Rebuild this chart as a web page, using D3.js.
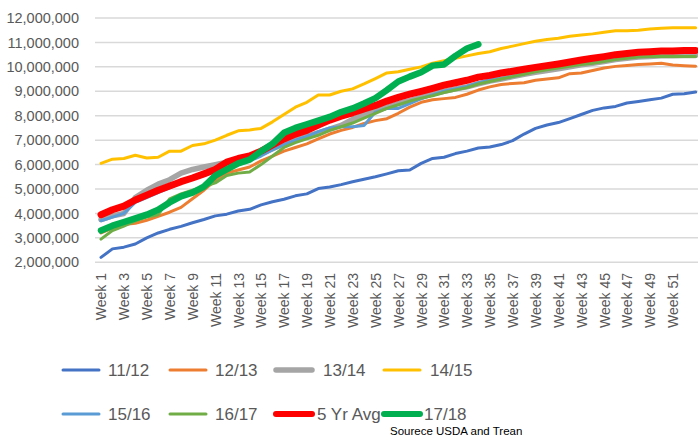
<!DOCTYPE html>
<html>
<head>
<meta charset="utf-8">
<script src="https://cdn.jsdelivr.net/npm/d3@7"></script>
<style>
  body { margin: 0; background: #fff; }
  text { font-family: "Liberation Sans", Arial, sans-serif; fill: #595959; }
</style>
</head>
<body>
<div id="chart"></div>
<script>
// weeks 1..53
var weeks = d3.range(1, 54).map(function(d) { return "Week " + d; });
var yTicks = [2000000, 3000000, 4000000, 5000000, 6000000, 7000000, 8000000, 9000000, 10000000, 11000000, 12000000];

// values in millions
var s1112 = [2.2, 2.55, 2.62, 2.75, 3.0, 3.2, 3.35, 3.47, 3.62, 3.75, 3.9, 3.97, 4.1, 4.17, 4.35, 4.48, 4.58, 4.72, 4.8, 5.02,
  5.08, 5.18, 5.3, 5.4, 5.5, 5.62, 5.75, 5.78, 6.05, 6.25, 6.3, 6.45, 6.55, 6.68, 6.72, 6.82, 6.98, 7.25, 7.48, 7.62,
  7.72, 7.88, 8.05, 8.22, 8.32, 8.38, 8.52, 8.58, 8.65, 8.72, 8.88, 8.9, 8.97];
var s1213 = [3.2, 3.4, 3.55, 3.6, 3.72, 3.88, 4.05, 4.25, 4.6, 4.95, 5.35, 5.65, 5.78, 5.9, 6.15, 6.35, 6.55, 6.7, 6.85, 7.05,
  7.25, 7.4, 7.52, 7.68, 7.8, 7.88, 8.1, 8.35, 8.55, 8.65, 8.7, 8.75, 8.88, 9.05, 9.18, 9.28, 9.32, 9.35, 9.45, 9.5,
  9.55, 9.72, 9.75, 9.85, 9.95, 10.02, 10.06, 10.1, 10.12, 10.15, 10.08, 10.05, 10.03];
var s1314 = [3.75, 3.9, 4.0, 4.65, 4.95, 5.2, 5.38, 5.65, 5.8, 5.9, 6.0, 6.1, 6.2, 6.3, 6.45, 6.65, 6.85, 7.0, 7.15, 7.3,
  7.45, 7.6, 7.85, 8.05, 8.2, 8.35, 8.5, 8.62, 8.75, 8.9, 9.0, 9.1, 9.18, 9.3, 9.42, 9.5, 9.6, 9.7, 9.78, 9.85,
  9.92, 10.0, 10.08, 10.15, 10.22, 10.3, 10.35, 10.4, 10.42, 10.45, 10.45, 10.47, 10.47];
var s1415 = [6.05, 6.22, 6.25, 6.38, 6.27, 6.3, 6.55, 6.55, 6.78, 6.85, 7.0, 7.2, 7.38, 7.42, 7.48, 7.75, 8.05, 8.35, 8.55, 8.85,
  8.85, 9.0, 9.1, 9.3, 9.52, 9.75, 9.8, 9.9, 10.0, 10.15, 10.25, 10.35, 10.45, 10.55, 10.62, 10.75, 10.85, 10.95, 11.05, 11.12,
  11.17, 11.25, 11.3, 11.35, 11.42, 11.48, 11.48, 11.5, 11.55, 11.58, 11.6, 11.6, 11.6];
var s1516 = [3.7, 3.85, 4.0, 4.45, 4.65, 4.85, 5.05, 5.25, 5.42, 5.55, 5.72, 5.88, 6.0, 6.15, 6.35, 6.6, 6.82, 7.0, 7.15, 7.35,
  7.5, 7.55, 7.55, 7.6, 8.15, 8.3, 8.3, 8.5, 8.7, 8.85, 9.0, 9.1, 9.2, 9.35, 9.45, 9.52, 9.6, 9.72, 9.82, 9.92,
  10.0, 10.08, 10.15, 10.22, 10.3, 10.38, 10.45, 10.52, 10.58, 10.62, 10.65, 10.7, 10.72];
var s1617 = [2.95, 3.3, 3.48, 3.7, 3.85, 3.95, 4.6, 4.8, 4.95, 5.1, 5.25, 5.55, 5.65, 5.7, 6.0, 6.35, 6.7, 6.9, 7.05, 7.2,
  7.4, 7.55, 7.7, 7.9, 8.1, 8.3, 8.45, 8.6, 8.72, 8.82, 8.95, 9.05, 9.15, 9.3, 9.4, 9.5, 9.6, 9.7, 9.8, 9.88,
  9.95, 10.02, 10.1, 10.15, 10.22, 10.3, 10.35, 10.4, 10.42, 10.43, 10.42, 10.42, 10.42];
var sAvg = [3.95, 4.15, 4.3, 4.55, 4.75, 4.95, 5.12, 5.3, 5.45, 5.62, 5.8, 6.1, 6.25, 6.35, 6.55, 6.8, 7.05, 7.25, 7.4, 7.62,
  7.82, 7.98, 8.12, 8.28, 8.42, 8.6, 8.75, 8.88, 9.0, 9.12, 9.25, 9.35, 9.45, 9.58, 9.65, 9.75, 9.82, 9.9, 9.98, 10.05,
  10.12, 10.2, 10.28, 10.35, 10.42, 10.5, 10.55, 10.6, 10.62, 10.65, 10.65, 10.67, 10.67];
var s1718 = [3.3, 3.5, 3.65, 3.8, 3.95, 4.15, 4.45, 4.7, 4.85, 5.1, 5.55, 5.8, 6.05, 6.2, 6.55, 6.85, 7.3, 7.5, 7.65, 7.8,
  7.95, 8.15, 8.3, 8.5, 8.72, 9.05, 9.4, 9.6, 9.78, 10.05, 10.1, 10.45, 10.75, 10.92];

var seriesNames = ["11/12", "12/13", "13/14", "14/15", "15/16", "16/17", "5 Yr Avg", "17/18"];
var seriesValues = [s1112, s1213, s1314, s1415, s1516, s1617, sAvg, s1718];
var seriesColors = ["#4472C4", "#ED7D31", "#A5A5A5", "#FFC000", "#5B9BD5", "#70AD47", "#FF0000", "#00B050"];
var seriesWidths = [3, 3, 5.5, 3, 3, 3, 7, 6.5];

var width = 698, height = 439;

var svg = d3.select("#chart").append("svg")
  .attr("width", width)
  .attr("height", height);

var x = d3.scalePoint()
  .domain(weeks)
  .range([101, 695.6]);

var y = d3.scaleLinear()
  .domain([2000000, 12000000])
  .range([262.3, 18]);

// gridlines
svg.append("g")
  .selectAll("line")
  .data(yTicks)
  .enter().append("line")
  .attr("x1", 95)
  .attr("x2", 698)
  .attr("y1", d => y(d))
  .attr("y2", d => y(d))
  .attr("stroke", "#D9D9D9")
  .attr("stroke-width", 1.5);

// y axis labels
var yAxis = svg.append("g")
  .attr("transform", "translate(86,0)")
  .call(d3.axisLeft(y).tickValues(yTicks).tickFormat(d3.format(",")).tickSize(0).tickPadding(7));
yAxis.select(".domain").remove();
yAxis.selectAll("text")
  .style("font-family", "Liberation Sans, Arial, sans-serif")
  .style("font-size", "14.5px")
  .attr("fill", "#595959");

// x axis labels, every other week
var xAxis = svg.append("g")
  .attr("transform", "translate(0,268)")
  .call(d3.axisBottom(x).tickValues(weeks.filter((d, i) => i % 2 === 0 && i < 51)).tickSize(0));
xAxis.select(".domain").remove();
xAxis.selectAll("text")
  .style("font-family", "Liberation Sans, Arial, sans-serif")
  .style("font-size", "14px")
  .attr("fill", "#595959")
  .attr("transform", "rotate(-90)")
  .attr("x", -5)
  .attr("y", 0)
  .attr("dy", "0.35em")
  .style("text-anchor", "end");

// lines
var line = d3.line()
  .x((d, i) => x(weeks[i]))
  .y(d => y(d * 1000000));

svg.append("g")
  .selectAll("path")
  .data(seriesValues)
  .enter().append("path")
  .attr("d", d => line(d))
  .attr("fill", "none")
  .attr("stroke", (d, i) => seriesColors[i])
  .attr("stroke-width", (d, i) => seriesWidths[i])
  .attr("stroke-linejoin", "round")
  .attr("stroke-linecap", "round");

// legend
var legendCols = [61, 168, 274, 382];
var legendRows = [370, 414];
var legendTextX = [108, 215, 323, 430, 108, 215, 317, 424];

var legend = svg.append("g")
  .selectAll("g")
  .data(seriesNames)
  .enter().append("g");

legend.append("line")
  .attr("x1", (d, i) => legendCols[i % 4] + 2)
  .attr("x2", (d, i) => legendCols[i % 4] + 38)
  .attr("y1", (d, i) => legendRows[Math.floor(i / 4)])
  .attr("y2", (d, i) => legendRows[Math.floor(i / 4)])
  .attr("stroke", (d, i) => seriesColors[i])
  .attr("stroke-width", (d, i) => Math.min(seriesWidths[i], 6))
  .attr("stroke-linecap", "round");

legend.append("text")
  .attr("x", (d, i) => legendTextX[i])
  .attr("y", (d, i) => legendRows[Math.floor(i / 4)])
  .attr("dy", "0.36em")
  .style("font-size", "17px")
  .text(d => d);

// source note
svg.append("text")
  .attr("x", 390)
  .attr("y", 435)
  .style("font-size", "11.5px")
  .style("fill", "#000")
  .text("Sourece USDA and Trean");
</script>
</body>
</html>
